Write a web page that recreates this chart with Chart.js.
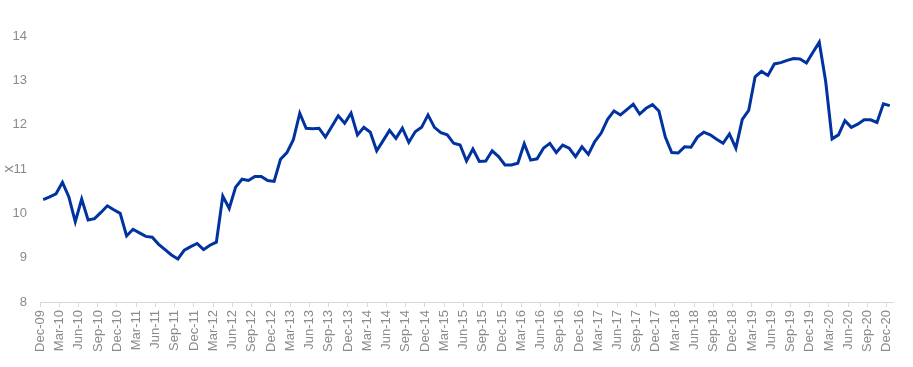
<!DOCTYPE html>
<html>
<head>
<meta charset="utf-8">
<script src="https://cdn.jsdelivr.net/npm/chart.js@4/dist/chart.umd.min.js"></script>
<style>
    body { margin: 0; background: #fff; }
    canvas { display: block; }
</style>
</head>
<body>
<canvas id="chart" width="913" height="367"></canvas>
<script>
// monthly, Dec-09 .. Dec-20
const monthNames = ['Jan', 'Feb', 'Mar', 'Apr', 'May', 'Jun', 'Jul', 'Aug', 'Sep', 'Oct', 'Nov', 'Dec'];
const startYear = 2009;
const startMonth = 11; // Dec
const monthCount = 133;

const values = [
    10.31, 10.37, 10.44, 10.70, 10.37, 9.81, 10.32, 9.85, 9.88, 10.02, 10.17, 10.08,
    10.00, 9.49, 9.64, 9.56, 9.48, 9.46, 9.30, 9.18, 9.06, 8.97, 9.17, 9.25,
    9.32, 9.18, 9.28, 9.35, 10.39, 10.11, 10.59, 10.77, 10.74, 10.83, 10.83, 10.74,
    10.72, 11.22, 11.37, 11.66, 12.26, 11.92, 11.91, 11.92, 11.72, 11.96, 12.20, 12.03,
    12.26, 11.77, 11.94, 11.83, 11.41, 11.64, 11.87, 11.69, 11.92, 11.60, 11.84, 11.94,
    12.22, 11.94, 11.82, 11.77, 11.58, 11.54, 11.18, 11.45, 11.17, 11.18, 11.41, 11.28,
    11.09, 11.09, 11.13, 11.57, 11.20, 11.23, 11.47, 11.58, 11.37, 11.54, 11.47, 11.28,
    11.50, 11.33, 11.62, 11.81, 12.12, 12.31, 12.22, 12.34, 12.46, 12.24, 12.37, 12.45,
    12.31, 11.72, 11.37, 11.36, 11.50, 11.49, 11.72, 11.83, 11.77, 11.67, 11.58, 11.79,
    11.47, 12.12, 12.32, 13.08, 13.20, 13.11, 13.37, 13.40, 13.45, 13.49, 13.48, 13.39,
    13.63, 13.86, 12.98, 11.68, 11.77, 12.09, 11.94, 12.01, 12.11, 12.11, 12.05, 12.47,
    12.43
];

const yTicks = [8, 9, 10, 11, 12, 13, 14];

const labels = [];
for (let i = 0; i < monthCount; i++) {
    const m = (startMonth + i) % 12;
    const y = startYear + Math.floor((startMonth + i) / 12);
    labels.push(monthNames[m] + '-' + String(y % 100).padStart(2, '0'));
}

const grey = '#8a8a8a';
const axisGrey = '#d9d9d9';

const ctx = document.getElementById('chart').getContext('2d');
new Chart(ctx, {
    type: 'line',
    data: {
        labels: labels,
        datasets: [{
            data: values,
            borderColor: '#0033a0',
            borderWidth: 3,
            pointRadius: 0,
            tension: 0,
            fill: false
        }]
    },
    options: {
        responsive: false,
        animation: false,
        layout: { padding: { left: 0, right: 20, top: 36, bottom: 0 } },
        plugins: {
            legend: { display: false },
            tooltip: { enabled: false }
        },
        scales: {
            x: {
                type: 'category',
                offset: true,
                border: { display: true, color: axisGrey, width: 1 },
                grid: {
                    display: true,
                    drawOnChartArea: false,
                    drawTicks: true,
                    tickLength: 5,
                    offset: true,
                    color: c => (c.index % 3 === 0 ? axisGrey : 'rgba(0,0,0,0)')
                },
                ticks: {
                    autoSkip: false,
                    maxRotation: 90,
                    minRotation: 90,
                    padding: 3,
                    labelOffset: -3,
                    color: grey,
                    font: { family: 'Liberation Sans, Arial, sans-serif', size: 13 },
                    callback: function (val, idx) {
                        return idx % 3 === 0 ? this.getLabelForValue(val) : '';
                    }
                },
                afterFit: scale => { scale.height = 65; }
            },
            y: {
                min: yTicks[0],
                max: yTicks[yTicks.length - 1],
                border: { display: false },
                grid: { display: false, drawTicks: false },
                afterBuildTicks: scale => {
                    scale.ticks = yTicks.map(v => ({ value: v }));
                },
                ticks: {
                    padding: 13,
                    color: grey,
                    font: { family: 'Liberation Sans, Arial, sans-serif', size: 13 }
                },
                title: {
                    display: true,
                    text: 'x',
                    color: grey,
                    padding: { top: 0, bottom: 0 },
                    font: { family: 'Liberation Sans, Arial, sans-serif', size: 15 }
                },
                afterFit: scale => { scale.width = 40; }
            }
        }
    }
});
</script>
</body>
</html>
